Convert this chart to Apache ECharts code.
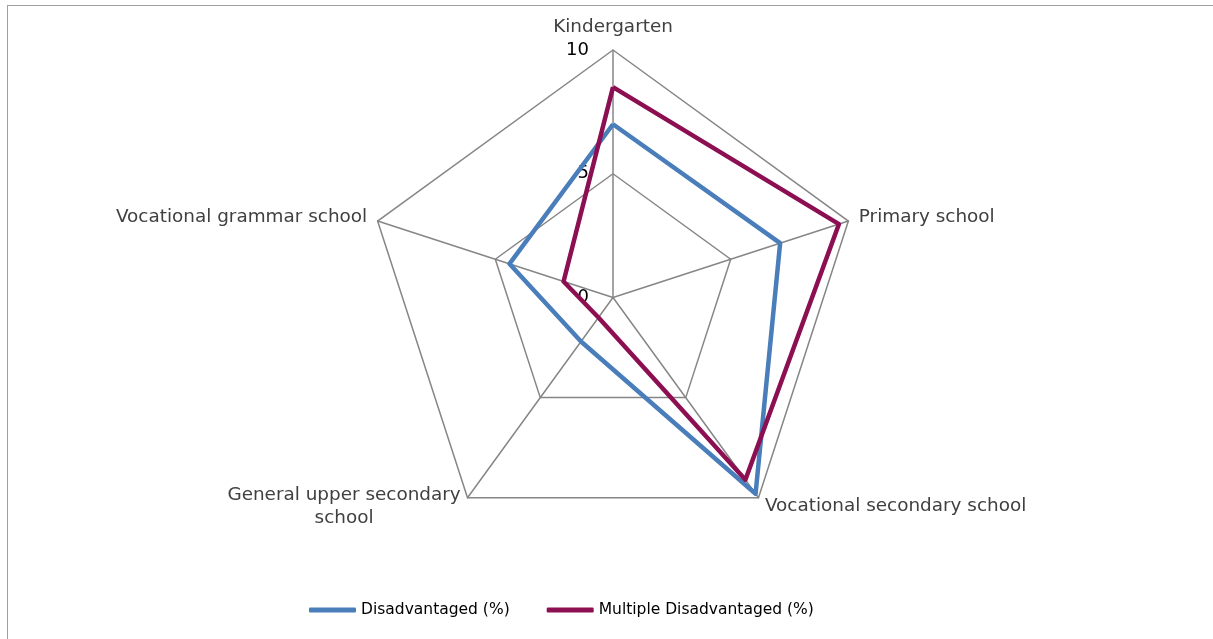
<!DOCTYPE html>
<html>
<head>
<meta charset="utf-8">
<script src="https://cdn.jsdelivr.net/npm/echarts@6/dist/echarts.min.js"></script>
<style>
  html, body { margin: 0; padding: 0; width: 1213px; height: 639px; overflow: hidden; background: #fff; }
  #chart { position: absolute; left: 0; top: 0; width: 1213px; height: 639px; }
  #frame { position: absolute; left: 7px; top: 5px; width: 1400px; height: 800px; border: 1.5px solid #a0a0a0; pointer-events: none; }
</style>
</head>
<body>
<div id="frame"></div>
<div id="chart"></div>
<script>
// Indicators listed in ECharts' counter-clockwise order starting from the top
const categories = ['Kindergarten', 'Vocational grammar school', 'General upper secondary\nschool', 'Vocational secondary school', 'Primary school'];
const disadvantaged = [7.0, 4.4, 2.2, 9.8, 7.1];
const multipleDisadvantaged = [8.5, 2.1, 1.0, 9.1, 9.6];
const seriesNames = ['Disadvantaged (%)', 'Multiple Disadvantaged (%)'];
const axisMin = 0, axisMax = 10;

const FONT = 'DejaVu Sans';
const chart = echarts.init(document.getElementById('chart'), null, { renderer: 'canvas' });

const indicator = categories.map((c, i) => {
  const o = { name: c, min: axisMin, max: axisMax };
  if (i === 0) o.axisLabel = { show: true };
  return o;
});

chart.setOption({
  animation: false,
  backgroundColor: 'transparent',
  color: ['#4A7EBB', '#8C0F52'],
  legend: {
    left: 309,
    top: 602,
    padding: 0,
    itemWidth: 47,
    itemHeight: 5,
    itemGap: 37,
    icon: 'roundRect',
    textStyle: { fontFamily: FONT, fontSize: 15.5, color: '#000' },
    data: seriesNames
  },
  radar: {
    center: [613, 297.5],
    radius: 247.5,
    startAngle: 90,
    shape: 'polygon',
    splitNumber: 2,
    nameGap: 11,
    axisName: {
      fontFamily: FONT,
      fontSize: 18.4,
      color: '#404040',
      lineHeight: 23,
      formatter: function (name) {
        if (name.indexOf('\n') >= 0) {
          return name.split('\n').map(s => '{c|' + s + '}').join('\n');
        }
        return name;
      },
      rich: {
        c: { width: 234, align: 'center', fontFamily: FONT, fontSize: 18.4, color: '#404040', lineHeight: 23 }
      }
    },
    axisLine: { show: true, lineStyle: { color: '#868686', width: 1.5 } },
    splitLine: { show: true, lineStyle: { color: '#868686', width: 1.5 } },
    splitArea: { show: false },
    axisTick: { show: false },
    axisLabel: {
      show: false,
      margin: 24,
      fontFamily: FONT,
      fontSize: 18,
      color: '#000',
      showMinLabel: true,
      showMaxLabel: true
    },
    indicator: indicator
  },
  series: [{
    type: 'radar',
    symbol: 'none',
    data: [
      { name: seriesNames[0], value: disadvantaged, lineStyle: { width: 4.5, color: '#4A7EBB' }, itemStyle: { color: '#4A7EBB' } },
      { name: seriesNames[1], value: multipleDisadvantaged, lineStyle: { width: 4.5, color: '#8C0F52' }, itemStyle: { color: '#8C0F52' } }
    ]
  }]
});
</script>
</body>
</html>
